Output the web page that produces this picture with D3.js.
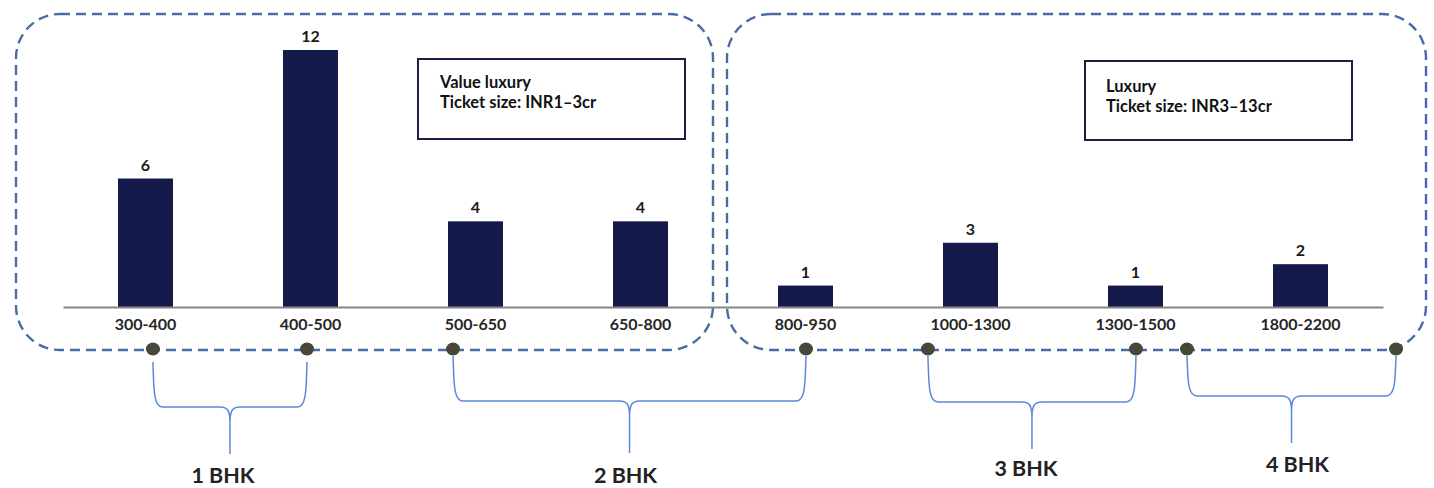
<!DOCTYPE html>
<html>
<head>
<meta charset="utf-8">
<script src="https://cdn.jsdelivr.net/npm/d3@7"></script>
<style>
  html, body { margin: 0; padding: 0; background: #ffffff; }
  svg { display: block; font-family: Lato, "Open Sans", sans-serif; }
</style>
</head>
<body>
<svg id="chart" width="1434" height="488"></svg>
<script>
// Unit size bands (sq ft) and number of projects in each band
const sizeBands = ["300-400", "400-500", "500-650", "650-800", "800-950", "1000-1300", "1300-1500", "1800-2200"];
const projectCounts = [6, 12, 4, 4, 1, 3, 1, 2];

// Segments and their ticket sizes
const segmentNames = ["Value luxury", "Luxury"];
const segmentTickets = ["Ticket size: INR1\u20133cr", "Ticket size: INR3\u201313cr"];

// Configuration groups, spanning positions along the band index
const bhkLabels = ["1 BHK", "2 BHK", "3 BHK", "4 BHK"];
const bhkSpanStart = [0.545, 2.364, 5.242, 6.812];
const bhkSpanEnd = [1.479, 4.503, 6.503, 8.079];

const svg = d3.select("#chart");

const x = d3.scaleBand()
  .domain(sizeBands)
  .range([63, 1383])
  .paddingInner(2 / 3)
  .paddingOuter(1 / 3);

// Continuous index scale sharing the same pixel range as the band axis
const xi = d3.scaleLinear().domain([0, sizeBands.length]).range([63, 1383]);

const y = d3.scaleLinear().domain([0, 12]).range([307, 50]);

const dashColor = "#4a6ca6";

// Segment outlines (dashed rounded rectangles)
const segmentFrames = [
  { x0: 16, x1: 713, y0: 14, y1: 350 },
  { x0: 727, x1: 1426, y0: 14, y1: 350 }
];
svg.append("g").selectAll("rect")
  .data(segmentFrames)
  .join("rect")
  .attr("x", d => d.x0)
  .attr("y", d => d.y0)
  .attr("width", d => d.x1 - d.x0)
  .attr("height", d => d.y1 - d.y0)
  .attr("rx", 44)
  .attr("ry", 44)
  .attr("fill", "none")
  .attr("stroke", dashColor)
  .attr("stroke-width", 2.4)
  .attr("stroke-dasharray", "10,6");

// Bars
svg.append("g").selectAll("rect")
  .data(sizeBands)
  .join("rect")
  .attr("x", d => x(d))
  .attr("y", (d, i) => y(projectCounts[i]))
  .attr("width", x.bandwidth())
  .attr("height", (d, i) => y(0) - y(projectCounts[i]))
  .attr("fill", "#141b4b");

// Baseline axis with category labels
const axis = svg.append("g")
  .attr("transform", `translate(0,${y(0)})`)
  .call(d3.axisBottom(x).tickSize(0).tickPadding(0));
axis.select(".domain").attr("stroke", "#858585").attr("stroke-width", 2);
axis.selectAll("text")
  .attr("dy", null)
  .attr("y", 23)
  .attr("fill", "#262626")
  .attr("font-family", "Lato, sans-serif")
  .attr("font-weight", "bold")
  .attr("font-size", 16);

// Value labels above bars
svg.append("g").selectAll("text")
  .data(sizeBands)
  .join("text")
  .attr("x", d => x(d) + x.bandwidth() / 2)
  .attr("y", (d, i) => y(projectCounts[i]) - 8)
  .attr("text-anchor", "middle")
  .attr("font-weight", "bold")
  .attr("font-size", 16)
  .attr("fill", "#1a1a1a")
  .text((d, i) => projectCounts[i]);

// Segment info boxes
const infoBoxes = [
  { x0: 418, x1: 685, y0: 59, y1: 139, tx: 440, ty: 88 },
  { x0: 1085, x1: 1352, y0: 61, y1: 140, tx: 1106, ty: 92 }
];
const info = svg.append("g").selectAll("g")
  .data(infoBoxes)
  .join("g");
info.append("rect")
  .attr("x", d => d.x0)
  .attr("y", d => d.y0)
  .attr("width", d => d.x1 - d.x0)
  .attr("height", d => d.y1 - d.y0)
  .attr("fill", "#ffffff")
  .attr("stroke", "#1b1f45")
  .attr("stroke-width", 2);
info.append("text")
  .attr("x", d => d.tx)
  .attr("y", d => d.ty)
  .attr("font-weight", "bold")
  .attr("font-size", 16.5)
  .attr("fill", "#111")
  .text((d, i) => segmentNames[i]);
info.append("text")
  .attr("x", d => d.tx)
  .attr("y", d => d.ty + 20)
  .attr("font-weight", "bold")
  .attr("font-size", 16.5)
  .attr("fill", "#111")
  .text((d, i) => segmentTickets[i]);

// Curly brackets grouping bands into BHK configurations
const bracketLayout = [
  { top: 362, bar: 407, tip: 454, label: 483, dx: -7 },
  { top: 356, bar: 401, tip: 453, label: 483, dx: -4 },
  { top: 356, bar: 402, tip: 449, label: 476, dx: -6 },
  { top: 356, bar: 396, tip: 443, label: 472, dx: 6 }
];
const r = 10;
function bracePath(x1, x2, L) {
  const xm = (x1 + x2) / 2;
  return `M${x1},${L.top} C${x1 + 1},${L.bar - 20} ${x1},${L.bar} ${x1 + r},${L.bar}` +
    ` L${xm - r},${L.bar} C${xm - 2},${L.bar} ${xm},${L.bar + 4} ${xm},${L.bar + r + 6} L${xm},${L.tip}` +
    ` M${xm},${L.bar + r + 6} C${xm},${L.bar + 4} ${xm + 2},${L.bar} ${xm + r},${L.bar}` +
    ` L${x2 - r},${L.bar} C${x2},${L.bar} ${x2 - 1},${L.bar - 20} ${x2},${L.top}`;
}
const braces = svg.append("g");
bhkLabels.forEach((lab, i) => {
  const x1 = xi(bhkSpanStart[i]);
  const x2 = xi(bhkSpanEnd[i]);
  const L = bracketLayout[i];
  braces.append("path")
    .attr("d", bracePath(x1, x2, L))
    .attr("fill", "none")
    .attr("stroke", "#5b8bd6")
    .attr("stroke-width", 1.5);
  braces.append("text")
    .attr("x", (x1 + x2) / 2 + L.dx)
    .attr("y", L.label)
    .attr("text-anchor", "middle")
    .attr("font-weight", "bold")
    .attr("font-size", 21.5)
    .attr("fill", "#222")
    .text(lab);
});

// Endpoint markers on the segment outlines
const ends = bhkSpanStart.flatMap((s, i) => [s, bhkSpanEnd[i]]);
svg.append("g").selectAll("ellipse")
  .data(ends)
  .join("ellipse")
  .attr("cx", d => xi(d))
  .attr("cy", 349)
  .attr("rx", 7)
  .attr("ry", 6.5)
  .attr("fill", "#47473a");
</script>
</body>
</html>
